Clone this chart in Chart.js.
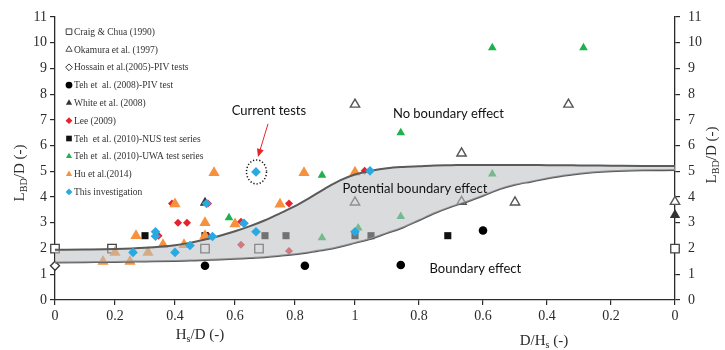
<!DOCTYPE html>
<html>
<head>
<meta charset="utf-8">
<script src="https://cdn.jsdelivr.net/npm/chart.js@4/dist/chart.umd.min.js"></script>
<style>
  html, body { margin: 0; padding: 0; background: #fff; }
  #wrap { width: 725px; height: 350px; }
</style>
</head>
<body>
<div id="wrap"><canvas id="c" width="725" height="350"></canvas></div>
<script>
// Embedment ratio L_BD/D against Hs/D (left half) and D/Hs (right half)

// ---- data -------------------------------------------------------------
// each series: values on the Hs/D side, values on the D/Hs side
const craigHsD = [0, 0.19, 0.5, 0.68];
const craigL   = [2.0, 2.0, 2.0, 2.0];
const craigDHs = [0];
const craigLR  = [2.0];

const okamuraHsD = [1.0, 1.0];
const okamuraL   = [7.6, 3.8];
const okamuraDHs = [0.667, 0.667, 0.5, 0.333, 0];
const okamuraLR  = [5.7, 3.82, 3.8, 7.6, 3.82];

const hossainHsD = [0];
const hossainL   = [1.33];

const teh08HsD = [0.5, 0.833];
const teh08L   = [1.33, 1.33];
const teh08DHs = [0.857, 0.6];
const teh08LR  = [1.36, 2.7];

const whiteHsD = [0.5];
const whiteL   = [3.78];
const whiteDHs = [0];
const whiteLR  = [3.3];

const leeHsD = [0.345, 0.39, 0.41, 0.44, 0.51, 0.51, 0.62, 0.62, 0.78, 0.78];
const leeL   = [2.5, 3.75, 3.0, 3.0, 3.75, 2.5, 3.04, 2.15, 3.75, 1.9];
const leeDHs = [0.97];
const leeLR  = [5.02];

const nusHsD = [0.3, 0.5, 0.7, 0.77, 1.0];
const nusL   = [2.5, 2.5, 2.5, 2.5, 2.5];
const nusDHs = [0.95, 0.71];
const nusLR  = [2.5, 2.5];

const uwaHsD = [0.58, 0.89, 0.89];
const uwaL   = [3.2, 4.85, 2.42];
const uwaDHs = [0.99, 0.857, 0.857, 0.571, 0.571, 0.286];
const uwaLR  = [2.8, 6.5, 3.25, 9.8, 4.9, 9.8];

const huHsD = [0.16, 0.2, 0.25, 0.27, 0.31, 0.36, 0.4, 0.43, 0.5, 0.5, 0.53, 0.6, 0.75, 0.83, 1.0];
const huL   = [1.5, 1.85, 1.5, 2.5, 1.85, 2.15, 3.73, 2.15, 3.0, 2.5, 4.95, 2.95, 3.72, 4.95, 4.97];

const thisHsD = [0.26, 0.335, 0.335, 0.4, 0.45, 0.505, 0.525, 0.63, 0.67, 0.67, 1.0];
const thisL   = [1.85, 2.65, 2.48, 1.85, 2.12, 3.75, 2.47, 2.98, 2.65, 4.98, 2.65];
const thisDHs = [0.953];
const thisLR  = [5.02];
const CURRENT_TEST = 9;   // index of the highlighted test in thisHsD / thisL

// boundary-effect band
const bandHsD    = [0, 0.1, 0.2, 0.3, 0.4, 0.45, 0.5, 0.55, 0.6, 0.65, 0.7, 0.75, 0.8, 0.85, 0.9, 0.95, 1.0];
const bandUpperL = [1.95, 1.96, 1.98, 2.03, 2.13, 2.22, 2.35, 2.5, 2.67, 2.87, 3.1, 3.37, 3.65, 3.98, 4.33, 4.65, 4.88];
const bandLowerL = [1.46, 1.47, 1.48, 1.5, 1.52, 1.535, 1.55, 1.57, 1.6, 1.63, 1.66, 1.72, 1.78, 1.86, 1.95, 2.07, 2.22];
const bandDHs    = [0.95, 0.9, 0.85, 0.8, 0.75, 0.7, 0.65, 0.6, 0.55, 0.5, 0.45, 0.4, 0.35, 0.3, 0.2, 0.1, 0];
const bandUpperR = [5.02, 5.12, 5.17, 5.2, 5.23, 5.24, 5.25, 5.25, 5.25, 5.25, 5.25, 5.24, 5.24, 5.23, 5.22, 5.21, 5.21];
const bandLowerR = [2.38, 2.6, 2.82, 3.1, 3.38, 3.62, 3.82, 4.05, 4.3, 4.48, 4.6, 4.72, 4.83, 4.91, 5.0, 5.04, 5.05];

// tick labels
const xTicksHsD = [0, 0.2, 0.4, 0.6, 0.8, 1];
const xTicksDHs = [0.8, 0.6, 0.4, 0.2, 0];
const yTicks    = [0, 1, 2, 3, 4, 5, 6, 7, 8, 9, 10, 11];

// ---- axis mapping: one linear x axis, Hs/D on [0,1], D/Hs (1 -> 0) beyond ----
const RIGHT_SPAN = 320 / 300;
const X_MAX = 1 + RIGHT_SPAN;
const fromDHs = d => 1 + (1 - d) * RIGHT_SPAN;
const toLabel = v => v <= 1 + 1e-9 ? v : 1 - (v - 1) / RIGHT_SPAN;
const fmt = v => String(Math.round(v * 10) / 10);

function pts(hsd, l, dhs, lr) {
  const out = (hsd || []).map((v, i) => ({ x: v, y: l[i] }));
  (dhs || []).forEach((d, i) => out.push({ x: fromDHs(d), y: lr[i] }));
  return out;
}

const SERIF = '"Liberation Serif", "DejaVu Serif", serif';
const INK = '#2b2b2b';

function series(label, data, style, radius, fill, stroke, bw, order) {
  return {
    label, data, order, clip: false,
    pointStyle: style, pointRadius: radius, pointHoverRadius: radius,
    backgroundColor: fill, borderColor: stroke, borderWidth: bw
  };
}

const datasets = [
  series('This investigation', pts(thisHsD, thisL, thisDHs, thisLR), 'rectRot', 4.8, '#29a9e1', '#29a9e1', 0, 1),
  {
    label: 'band-upper', type: 'line', order: 2,
    data: pts(bandHsD, bandUpperL, bandDHs, bandUpperR),
    borderColor: '#5a5a5a', borderWidth: 2, pointRadius: 0, pointHoverRadius: 0,
    cubicInterpolationMode: 'monotone',
    fill: '+1', backgroundColor: 'rgba(188,190,195,0.56)'
  },
  {
    label: 'band-lower', type: 'line', order: 2,
    data: pts(bandHsD, bandLowerL, bandDHs, bandLowerR),
    borderColor: '#5a5a5a', borderWidth: 2, pointRadius: 0, pointHoverRadius: 0,
    cubicInterpolationMode: 'monotone', fill: false
  },
  series('Hu et al.(2014)', pts(huHsD, huL), 'triangle', 6.5, '#f6913d', '#f6913d', 0, 3),
  series('Teh et  al. (2010)-UWA test series', pts(uwaHsD, uwaL, uwaDHs, uwaLR), 'triangle', 5, '#1db24d', '#1db24d', 0, 3),
  series('Teh  et al. (2010)-NUS test series', pts(nusHsD, nusL, nusDHs, nusLR), 'rect', 5, '#111', '#111', 0, 3),
  series('Lee (2009)', pts(leeHsD, leeL, leeDHs, leeLR), 'rectRot', 4, '#e8222b', '#e8222b', 0, 3),
  series('White et al. (2008)', pts(whiteHsD, whiteL, whiteDHs, whiteLR), 'triangle', 6, '#333', '#333', 0, 3),
  series('Teh et  al. (2008)-PIV test', pts(teh08HsD, teh08L, teh08DHs, teh08LR), 'circle', 4.3, '#000', '#000', 0, 3),
  series('Hossain et al.(2005)-PIV tests', pts(hossainHsD, hossainL), 'rectRot', 4.5, '#fff', '#333', 1.3, 3),
  series('Okamura et al. (1997)', pts(okamuraHsD, okamuraL, okamuraDHs, okamuraLR), 'triangle', 5.4, '#fff', '#555', 1.4, 3),
  series('Craig & Chua (1990)', pts(craigHsD, craigL, craigDHs, craigLR), 'rect', 6, '#fff', '#444', 1.3, 3)
];

// legend order, top to bottom
const legendOrder = [
  'Craig & Chua (1990)', 'Okamura et al. (1997)', 'Hossain et al.(2005)-PIV tests',
  'Teh et  al. (2008)-PIV test', 'White et al. (2008)', 'Lee (2009)',
  'Teh  et al. (2010)-NUS test series', 'Teh et  al. (2010)-UWA test series',
  'Hu et al.(2014)', 'This investigation'
];

// region labels, anchored in axis units
const regionLabels = [
  { text: 'Current tests', x: 0.713, y: 7.35 },
  { text: 'No boundary effect', x: fromDHs(0.708), y: 7.25 },
  { text: 'Potential boundary effect', x: fromDHs(0.8125), y: 4.31 },
  { text: 'Boundary effect', x: fromDHs(0.624), y: 1.2 }
];

function marker(ctx, style, x, y, r) {
  ctx.beginPath();
  if (style === 'circle') {
    ctx.arc(x, y, r, 0, Math.PI * 2);
  } else if (style === 'rect') {
    const s = r * Math.SQRT1_2;
    ctx.rect(x - s, y - s, 2 * s, 2 * s);
  } else if (style === 'rectRot') {
    ctx.moveTo(x, y - r); ctx.lineTo(x + r, y); ctx.lineTo(x, y + r); ctx.lineTo(x - r, y);
    ctx.closePath();
  } else if (style === 'triangle') {
    for (let k = 0; k < 3; k++) {
      const a = k * 2 * Math.PI / 3;
      const px = x + Math.sin(a) * r, py = y - Math.cos(a) * r;
      k ? ctx.lineTo(px, py) : ctx.moveTo(px, py);
    }
    ctx.closePath();
  }
}

// text with a subscript part, e.g. L_BD
function richText(ctx, parts, x, y, size) {
  const widths = parts.map(p => {
    ctx.font = (p.sub ? size * 0.68 : size) + 'px ' + SERIF;
    return ctx.measureText(p.t).width;
  });
  const total = widths.reduce((a, b) => a + b, 0);
  let cx = x - total / 2;
  parts.forEach((p, i) => {
    ctx.font = (p.sub ? size * 0.68 : size) + 'px ' + SERIF;
    ctx.fillText(p.t, cx, p.sub ? y + size * 0.3 : y);
    cx += widths[i];
  });
}

const overlay = {
  id: 'overlay',
  afterDatasetsDraw(chart) {
    const { ctx, scales: { x, y } } = chart;
    ctx.save();

    // legend
    const lx = 69, ly0 = 31.7, step = 17.8;
    legendOrder.forEach((name, i) => {
      const ds = chart.data.datasets.find(d => d.label === name);
      const yy = ly0 + i * step;
      ctx.fillStyle = ds.backgroundColor;
      ctx.strokeStyle = ds.borderColor;
      ctx.lineWidth = ds.borderWidth ? 1 : 0;
      const r = ds.pointStyle === 'rect' ? 4 : ds.pointStyle === 'triangle' ? 3.6 : 3.4;
      marker(ctx, ds.pointStyle, lx, yy, r);
      ctx.fill();
      if (ds.borderWidth) ctx.stroke();
      ctx.fillStyle = '#333';
      ctx.font = '9.5px ' + SERIF;
      ctx.textAlign = 'left';
      ctx.textBaseline = 'middle';
      ctx.fillText(name, lx + 5, yy + 0.5);
    });

    // region labels
    ctx.font = '13px Lato, "Open Sans", sans-serif';
    ctx.fillStyle = '#111';
    ctx.textAlign = 'center';
    ctx.textBaseline = 'middle';
    regionLabels.forEach(r => ctx.fillText(r.text, x.getPixelForValue(r.x), y.getPixelForValue(r.y)));

    // highlighted test: dotted ring and red arrow
    const cx = x.getPixelForValue(thisHsD[CURRENT_TEST]);
    const cy = y.getPixelForValue(thisL[CURRENT_TEST]);
    ctx.strokeStyle = '#111';
    ctx.lineWidth = 1.5;
    ctx.setLineDash([1.2, 2]);
    ctx.beginPath();
    ctx.ellipse(cx + 0.5, cy, 10, 12, 0, 0, Math.PI * 2);
    ctx.stroke();
    ctx.setLineDash([]);

    const ax0 = cx + 12, ay0 = cy - 48, ax1 = cx + 2, ay1 = cy - 15;
    const ang = Math.atan2(ay1 - ay0, ax1 - ax0);
    ctx.strokeStyle = '#e8242a';
    ctx.fillStyle = '#e8242a';
    ctx.lineWidth = 1;
    ctx.beginPath();
    ctx.moveTo(ax0, ay0);
    ctx.lineTo(ax1 - Math.cos(ang) * 6, ay1 - Math.sin(ang) * 6);
    ctx.stroke();
    ctx.beginPath();
    ctx.moveTo(ax1, ay1);
    ctx.lineTo(ax1 - Math.cos(ang) * 8 + Math.sin(ang) * 3.5, ay1 - Math.sin(ang) * 8 - Math.cos(ang) * 3.5);
    ctx.lineTo(ax1 - Math.cos(ang) * 8 - Math.sin(ang) * 3.5, ay1 - Math.sin(ang) * 8 + Math.cos(ang) * 3.5);
    ctx.closePath();
    ctx.fill();
    ctx.restore();
  },
  afterDraw(chart) {
    const { ctx } = chart;
    ctx.save();
    ctx.fillStyle = INK;
    ctx.textAlign = 'left';
    ctx.textBaseline = 'middle';
    // x-axis titles
    richText(ctx, [{ t: 'H' }, { t: 's', sub: true }, { t: '/D (-)' }], 200, 335, 15);
    richText(ctx, [{ t: 'D/H' }, { t: 's', sub: true }, { t: ' (-)' }], 544, 341, 15);
    // y-axis titles
    const yTitle = [{ t: 'L' }, { t: 'BD', sub: true }, { t: '/D (-)' }];
    ctx.save();
    ctx.translate(20, 173);
    ctx.rotate(-Math.PI / 2);
    richText(ctx, yTitle, 0, 0, 15);
    ctx.restore();
    ctx.save();
    ctx.translate(712, 155);
    ctx.rotate(-Math.PI / 2);
    richText(ctx, yTitle, 0, 0, 15);
    ctx.restore();
    ctx.restore();
  }
};

const tickFont = { family: SERIF, size: 14 };
const axisBorder = { color: INK, width: 1.3 };

new Chart(document.getElementById('c'), {
  type: 'scatter',
  data: { datasets },
  plugins: [overlay],
  options: {
    responsive: false,
    devicePixelRatio: 1,
    animation: false,
    events: [],
    layout: { padding: { top: 17, left: 0, right: 0, bottom: 0 } },
    plugins: {
      legend: { display: false },
      tooltip: { enabled: false },
      filler: { propagate: false }
    },
    scales: {
      x: {
        type: 'linear', min: 0, max: X_MAX,
        afterBuildTicks: s => {
          s.ticks = xTicksHsD.map(v => ({ value: v })).concat(xTicksDHs.map(d => ({ value: fromDHs(d) })));
        },
        afterFit: s => { s.height = 50; },
        ticks: {
          font: tickFont, color: INK, padding: 3, maxRotation: 0, autoSkip: false,
          callback: v => fmt(toLabel(v))
        },
        grid: { drawOnChartArea: false, drawTicks: true, tickLength: 5, color: INK, lineWidth: 1.2 },
        border: axisBorder
      },
      y: {
        type: 'linear', position: 'left', min: 0, max: 11,
        afterBuildTicks: s => { s.ticks = yTicks.map(v => ({ value: v })); },
        afterFit: s => { s.width = 55; },
        ticks: { font: tickFont, color: INK, padding: 3 },
        grid: { drawOnChartArea: false, drawTicks: true, tickLength: 5, color: INK, lineWidth: 1.2 },
        border: axisBorder
      },
      y2: {
        type: 'linear', position: 'right', min: 0, max: 11,
        afterBuildTicks: s => { s.ticks = yTicks.map(v => ({ value: v })); },
        afterFit: s => { s.width = 50; },
        ticks: { font: tickFont, color: INK, padding: 8 },
        grid: { drawOnChartArea: false, drawTicks: true, tickLength: 5, color: INK, lineWidth: 1.2 },
        border: axisBorder
      }
    }
  }
});
</script>
</body>
</html>
